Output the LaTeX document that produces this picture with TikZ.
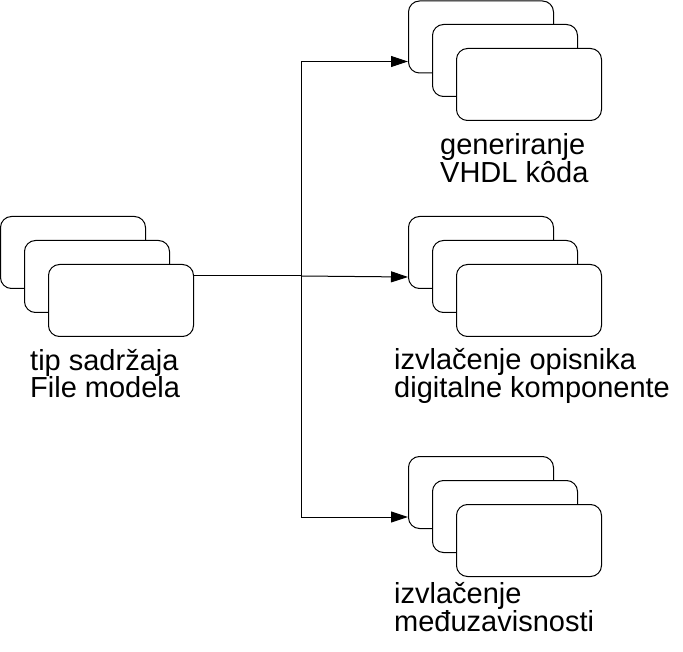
\documentclass[tikz,border=0pt]{standalone}
\usepackage{fontspec}
\setmainfont{Liberation Sans}
\usetikzlibrary{calc,arrows.meta}
\begin{document}
\begin{tikzpicture}[x=1pt,y=-1pt,
  card/.style={draw,line width=1pt,fill=white,rounded corners=11pt,minimum width=145pt,minimum height=72pt,inner sep=0pt,anchor=north west},
  lbl/.style={anchor=base west,align=left,inner sep=0pt,font=\fontsize{29pt}{28pt}\selectfont},
  conn/.style={line width=1pt},
  arr/.style={line width=1pt,-{Triangle[length=17pt,width=11pt]}}]
\useasboundingbox (0,0) rectangle (683,652);
% left stack
\node[card] (L1) at (0,216) {};
\node[card] (L2) at (24,240) {};
\node[card] (L3) at (48,264) {};
\node[lbl] (Lt) at (30,398) {tip sadržaja\\File modela};
% top stack
\node[card] (T1) at (408,0.5) {};
\node[card] (T2) at (432,24) {};
\node[card] (T3) at (456,48) {};
\node[lbl] (Tt) at (440,183) {generiranje\\VHDL kôda};
% middle stack
\node[card] (M1) at (408,216) {};
\node[card] (M2) at (432,240) {};
\node[card] (M3) at (456,264) {};
\node[lbl] (Mt) at (394,397) {izvlačenje opisnika\\digitalne komponente};
% bottom stack
\node[card] (B1) at (408,456) {};
\node[card] (B2) at (432,480) {};
\node[card] (B3) at (456,504) {};
\node[lbl] (Bt) at (394,631) {izvlačenje\\međuzavisnosti};
% connectors
\coordinate (j) at (301,276);
\draw[conn] ($(L3.north east)+(0,12)$) -- (j);
\draw[arr] (j) -- ($(M1.south west)+(0,-12)$);
\draw[arr] (j) |- ($(T1.south west)+(0,-12)$);
\draw[arr] (j) |- ($(B1.south west)+(0,-12)$);
\end{tikzpicture}
\end{document}
